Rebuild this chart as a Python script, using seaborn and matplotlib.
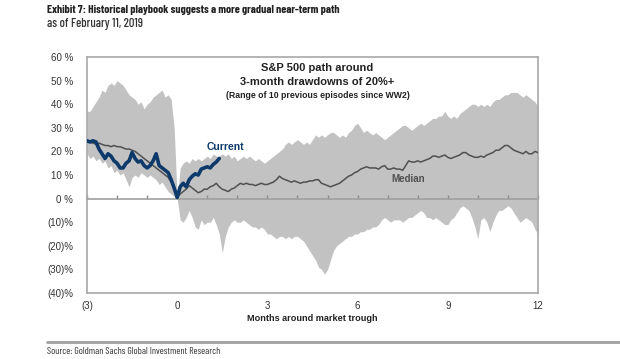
import numpy as np
import pandas as pd
import matplotlib
matplotlib.use('Agg')
import matplotlib.pyplot as plt
import seaborn as sns

# Данные (месяцы вокруг дна рынка, шаг 0.1)
months = np.round(np.arange(-3, 12.001, 0.1), 1)

band_upper = [37, 37, 39, 41, 43, 46, 45, 48, 49, 48,
              50, 49, 48, 46, 44, 43, 42, 40, 41, 38,
              40, 41, 43, 44, 45, 46, 43, 44, 42, 30,
              0, 13, 15, 16, 15, 17, 16, 17, 16, 17,
              18, 17, 19, 18, 18, 19, 18, 19, 17, 18,
              16, 17, 18, 17, 18, 17, 16, 17, 16, 15,
              16, 17, 18, 19, 20, 21, 23, 24, 23, 24,
              25, 24, 23, 24, 23, 25, 27, 26, 27, 26,
              27, 28, 28, 27, 26, 27, 26, 28, 29, 31,
              32, 30, 28, 29, 28, 27, 28, 27, 26, 25,
              26, 27, 28, 29, 30, 31, 31, 30, 29, 30,
              31, 32, 31, 32, 33, 34, 34, 35, 35, 37,
              35, 34, 35, 34, 36, 37, 38, 39, 40, 40,
              39, 40, 39, 40, 39, 41, 42, 42, 43, 44,
              44, 45, 45, 45, 44, 43, 44, 43, 42, 41,
              39]

band_lower = [19, 17, 18, 16, 17, 15, 16, 13, 14, 11,
              12, 10, 11, 8, 5, 9, 10, 9, 11, 10,
              9, 10, 9, 8, 6, 7, 5, 3, 2, 1,
              0, -9, -10, -8, -5, -8, -12, -13, -9, -11,
              -10, -10, -8, -11, -15, -23, -16, -12, -10, -9,
              -10, -10, -9, -10, -11, -12, -12, -13, -12, -13,
              -15, -15, -16, -17, -16, -16, -17, -16, -17, -16,
              -16, -17, -18, -20, -22, -24, -26, -29, -30, -32,
              -30, -26, -22, -20, -19, -18, -17, -16, -16, -15,
              -15, -14, -14, -13, -13, -12, -12, -11, -9, -8,
              -9, -10, -9, -9, -9, -10, -9, -8, -8, -7,
              -6, -5, -6, -8, -8, -9, -8, -9, -10, -11,
              -11, -9, -8, -6, -4, -3, -4, -5, -8, -12,
              -17, -9, -8, -10, -14, -10, -7, -5, -5, -4,
              -3, -4, -6, -8, -10, -9, -8, -9, -10, -13,
              -15]

median = [24.5, 24, 23.5, 23, 23.5, 23, 22.5, 22.5, 22, 22.5,
          22, 22, 21.5, 21, 21, 20.5, 20, 19, 18, 17,
          16, 15, 14, 13, 12, 11, 10, 9, 7, 4,
          0.5, 2, 3, 4, 5.5, 4.5, 3.5, 2.5, 3, 4,
          4, 5, 5.5, 6.5, 5, 4, 3.5, 3, 4, 4.5,
          5.5, 6.5, 6, 6.5, 6, 6, 5.5, 6, 6.5, 6,
          6, 6.5, 7, 8, 9.5, 8.5, 8, 7.5, 7, 7.5,
          7, 6.5, 7, 7, 7.5, 7.5, 8, 8, 6.5, 6,
          5.5, 5, 5.5, 6, 6.5, 7.5, 8.5, 9.5, 10, 11,
          11.5, 12.5, 13, 13.5, 13, 13, 13, 12.5, 13.5, 14,
          12.5, 12.5, 13, 12.5, 12.5, 12, 14, 16, 15.5, 15.5,
          16, 15.5, 16, 16.5, 17, 18, 18, 17.5, 18, 18.5,
          17.5, 17, 17.5, 18, 18.5, 19.5, 19.5, 18.5, 18, 17.5,
          17.5, 18, 17.5, 18.5, 19, 19.5, 20.5, 20.5, 21.5, 22.5,
          22.5, 21.5, 20.5, 20, 19.5, 19, 20, 19, 19, 20,
          19.5]

current_months = months[:45]
current = [24.5, 24, 24.5, 24, 21, 19, 17, 19, 18, 16,
           15, 13, 13, 15, 16, 19.5, 17, 15.5, 16, 14,
           13, 14, 16, 19, 14, 13, 12, 11, 8, 4.5,
           0.5, 5, 6.5, 5, 8, 9.5, 10.5, 10, 12.5, 13,
           13.5, 13, 14.5, 15.5, 17]

y_ticks = [60, 50, 40, 30, 20, 10, 0, -10, -20, -30, -40]
y_labels = ['60 %', '50 %', '40 %', '30 %', '20 %', '10 %', '0 %',
            '(10)%', '(20)%', '(30)%', '(40)%']
x_ticks = [-3, 0, 3, 6, 9, 12]
x_labels = ['(3)', '0', '3', '6', '9', '12']

df = pd.DataFrame({'month': months, 'upper': band_upper,
                   'lower': band_lower, 'median': median})
df_cur = pd.DataFrame({'month': current_months, 'current': current})

sns.set_theme(style='white')
plt.rcParams['font.family'] = ['Liberation Sans', 'DejaVu Sans']
cond = ['Barlow Condensed', 'DejaVu Sans']

fig = plt.figure(figsize=(6.2, 3.59), dpi=100)
ax = fig.add_axes([0.1403, 0.1838, 0.7274, 0.6574])

ax.fill_between(df['month'], df['lower'], df['upper'], color='#c2c2c2',
                linewidth=0, zorder=1)
sns.lineplot(data=df, x='month', y='median', ax=ax, color='#505050',
             linewidth=1.1, zorder=3)
sns.lineplot(data=df_cur, x='month', y='current', ax=ax, color='#0d3a6b',
             linewidth=2.6, zorder=4)

ax.set_xlim(-3, 12)
ax.set_ylim(-40, 60)
ax.set_yticks(y_ticks)
ax.set_yticklabels(y_labels)
ax.set_xticks(x_ticks)
ax.set_xticklabels(x_labels)
ax.tick_params(axis='both', labelsize=7, labelcolor='#333333', length=0)
ax.tick_params(axis='x', pad=6)
ax.tick_params(axis='y', pad=10)
ax.set_xlabel('')
ax.set_ylabel('')
for s in ax.spines.values():
    s.set_color('#a8a8a8')
    s.set_linewidth(1.2)

# Ось на уровне 0 % с делениями по месяцам (деления вверх)
sec = ax.secondary_xaxis(0.4)
sec.set_zorder(2)
sec.set_xticks(range(-3, 13))
sec.set_xticklabels([])
sec.tick_params(axis='x', direction='in', length=3, color='#8c8c8c', width=1)
sec.spines['bottom'].set_color('#a0a0a0')
sec.spines['bottom'].set_linewidth(1.2)

# Подписи
ax.text(4.67, 55.3, 'S&P 500 path around', ha='center', va='center',
        fontsize=8, fontweight='bold', color='#222222')
ax.text(4.67, 49.4, '3-month drawdowns of 20%+', ha='center', va='center',
        fontsize=8, fontweight='bold', color='#222222')
ax.text(4.67, 43.9, '(Range of 10 previous episodes since WW2)', ha='center',
        va='center', fontsize=6.3, fontweight='bold', color='#222222')
ax.text(0.97, 21.9, 'Current', ha='left', va='center', fontsize=7.5,
        fontweight='bold', color='#0d3a6b', zorder=5)
ax.text(7.13, 8.3, 'Median', ha='left', va='center', fontsize=7,
        fontweight='bold', color='#505050', zorder=5)

fig.text(0.503, 0.114, 'Months around market trough', ha='center',
         va='center', fontsize=6.6, fontweight='bold', color='#222222')

fig.text(0.0758, 0.972, 'Exhibit 7: Historical playbook suggests a more gradual near-term path',
         ha='left', va='center', fontsize=8.3, fontweight='bold', color='#222222',
         family=cond)
fig.text(0.0758, 0.933, 'as of February 11, 2019', ha='left', va='center',
         fontsize=9, fontweight='medium', color='#333333', family=cond)

fig.add_artist(plt.Line2D([0.0758, 1.0], [0.0474, 0.0474],
                          transform=fig.transFigure, color='#a0a0a0',
                          linewidth=2))
fig.text(0.0758, 0.0195, 'Source: Goldman Sachs Global Investment Research',
         ha='left', va='center', fontsize=7.1, color='#333333', family=cond)

fig.savefig('out.png', dpi=100)
plt.close(fig)
